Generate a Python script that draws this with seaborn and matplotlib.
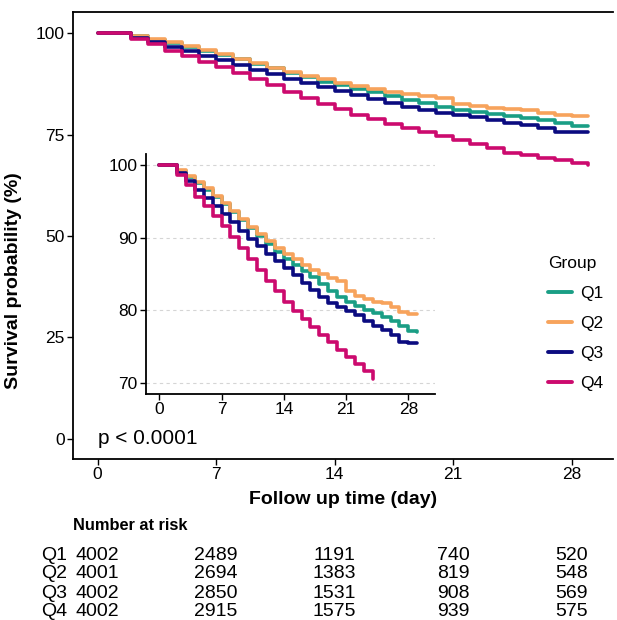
import pandas as pd
import matplotlib
matplotlib.use("Agg")
import matplotlib.pyplot as plt
import matplotlib.transforms as mtransforms
import seaborn as sns

# Kaplan-Meier curves, survival (%) at each day (step value from that day on)
days = list(range(30))
q1 = [100, 100, 99.2, 98.4, 97.5, 96.6, 95.6, 94.6, 93.5, 92.4, 91.3, 90.2, 89.1, 88.0, 87.1,
      86.2, 85.4, 84.6, 83.6, 82.7, 81.9, 81.1, 80.6, 80.1, 79.6, 79.1, 78.5, 77.8, 77.1, 77.0]
q2 = [100, 100, 99.3, 98.5, 97.7, 96.8, 95.8, 94.8, 93.7, 92.6, 91.5, 90.5, 89.5, 88.6, 87.8,
      87.0, 86.3, 85.6, 85.0, 84.5, 84.0, 82.6, 82.0, 81.5, 81.2, 81.0, 80.4, 79.8, 79.5, 79.5]
q3 = [100, 100, 98.9, 97.8, 96.6, 95.5, 94.4, 93.3, 92.1, 90.9, 89.8, 88.8, 87.8, 86.8, 85.8,
      84.8, 83.8, 82.8, 81.8, 81.0, 80.4, 79.9, 79.3, 78.6, 77.9, 77.3, 76.6, 75.6, 75.5, 75.5]
q4 = [100, 100, 98.6, 97.2, 95.6, 94.3, 93.0, 91.6, 90.1, 88.6, 87.1, 85.6, 84.1, 82.6, 81.2,
      79.9, 78.8, 77.7, 76.6, 75.6, 74.6, 73.6, 72.6, 71.6, 70.5, 69.9, 69.2, 68.6, 67.9, 67.5]

groups = ["Q1", "Q2", "Q3", "Q4"]
colors = ["#1A9E85", "#F7A35C", "#0B0B80", "#CC0A6E"]

# number at risk table
risk_times = [0, 7, 14, 21, 28]
risk_q1 = [4002, 2489, 1191, 740, 520]
risk_q2 = [4001, 2694, 1383, 819, 548]
risk_q3 = [4002, 2850, 1531, 908, 569]
risk_q4 = [4002, 2915, 1575, 939, 575]

frames = []
for g, vals in zip(groups, [q1, q2, q3, q4]):
    frames.append(pd.DataFrame({"day": days, "survival": vals, "Group": g}))
df = pd.concat(frames, ignore_index=True)
palette = dict(zip(groups, colors))

sns.set_style("white")
plt.rcParams["font.family"] = ["Liberation Sans", "DejaVu Sans"]
plt.rcParams["text.color"] = "black"
plt.rcParams["axes.labelcolor"] = "black"
plt.rcParams["xtick.color"] = "black"
plt.rcParams["ytick.color"] = "black"

fig = plt.figure(figsize=(6.17, 6.2), dpi=100)
ax = fig.add_axes([0.1183, 0.2597, 0.8752, 0.7209])

sns.lineplot(data=df, x="day", y="survival", hue="Group", palette=palette,
             drawstyle="steps-post", linewidth=2.6, estimator=None, ax=ax)
handles, labels = ax.get_legend_handles_labels()
ax.get_legend().remove()

ax.set_xlim(-1.45, 30.45)
ax.set_ylim(-5, 105.2)
ax.set_xticks([0, 7, 14, 21, 28])
ax.set_yticks([0, 25, 50, 75, 100])
ax.tick_params(axis="both", labelsize=12.5, length=4, width=1, pad=2,
               bottom=True, left=True)
for side in ["left", "bottom", "top"]:
    ax.spines[side].set_color("black")
    ax.spines[side].set_linewidth(1.3)
ax.spines["right"].set_visible(False)
ax.set_xlabel("Follow up time (day)", fontsize=14, fontweight="bold")
ax.set_ylabel("Survival probability (%)", fontsize=14, fontweight="bold")
ax.xaxis.set_label_coords(0.5, -0.072)
ax.yaxis.set_label_coords(-0.094, 0.40)
ax.text(0, 0, "p < 0.0001", fontsize=15, ha="left", va="center")

for h in handles:
    h.set_linewidth(2.8)
fig.legend(handles, labels, title="Group", loc="upper left",
           bbox_to_anchor=(548 / 617, 1 - 256 / 620), frameon=False,
           fontsize=12.5, title_fontsize=12.5, alignment="left",
           handlelength=1.4, handletextpad=0.45, labelspacing=0.86,
           borderpad=0, borderaxespad=0)

# inset zoom on the 70-100 range
ins = fig.add_axes([0.2366, 0.3645, 0.4684, 0.387])
ins_df = df[df["survival"] >= 70]
sns.lineplot(data=ins_df, x="day", y="survival", hue="Group", palette=palette,
             drawstyle="steps-post", linewidth=2.6, estimator=None, legend=False, ax=ins)
ins.set_xlim(-1.5, 31.0)
ins.set_ylim(68.5, 101.5)
ins.set_xticks([0, 7, 14, 21, 28])
ins.set_yticks([70, 80, 90, 100])
ins.grid(axis="y", linestyle=(0, (3, 3)), color="#D5D5D5", linewidth=0.8)
ins.tick_params(axis="both", labelsize=12.5, length=4, width=1, pad=2,
                bottom=True, left=True)
for side in ["left", "bottom"]:
    ins.spines[side].set_color("black")
    ins.spines[side].set_linewidth(1.3)
ins.spines["right"].set_visible(False)
ins.spines["top"].set_visible(False)
ins.set_xlabel("")
ins.set_ylabel("")

# number at risk table below the plot
trans = mtransforms.blended_transform_factory(ax.transData, fig.transFigure)
fig.text(73 / 617, 1 - 526 / 620, "Number at risk", fontsize=11.8, fontweight="bold",
         ha="left", va="center")
row_y = [555, 574, 593, 612]
for g, counts, y in zip(groups, [risk_q1, risk_q2, risk_q3, risk_q4], row_y):
    fig.text(41 / 617, 1 - y / 620, g, fontsize=14, ha="left", va="center")
    for t, n in zip(risk_times, counts):
        ax.text(t, 1 - y / 620, str(n), fontsize=14, ha="center", va="center",
                transform=trans, clip_on=False)

fig.savefig("out.png", dpi=100)
